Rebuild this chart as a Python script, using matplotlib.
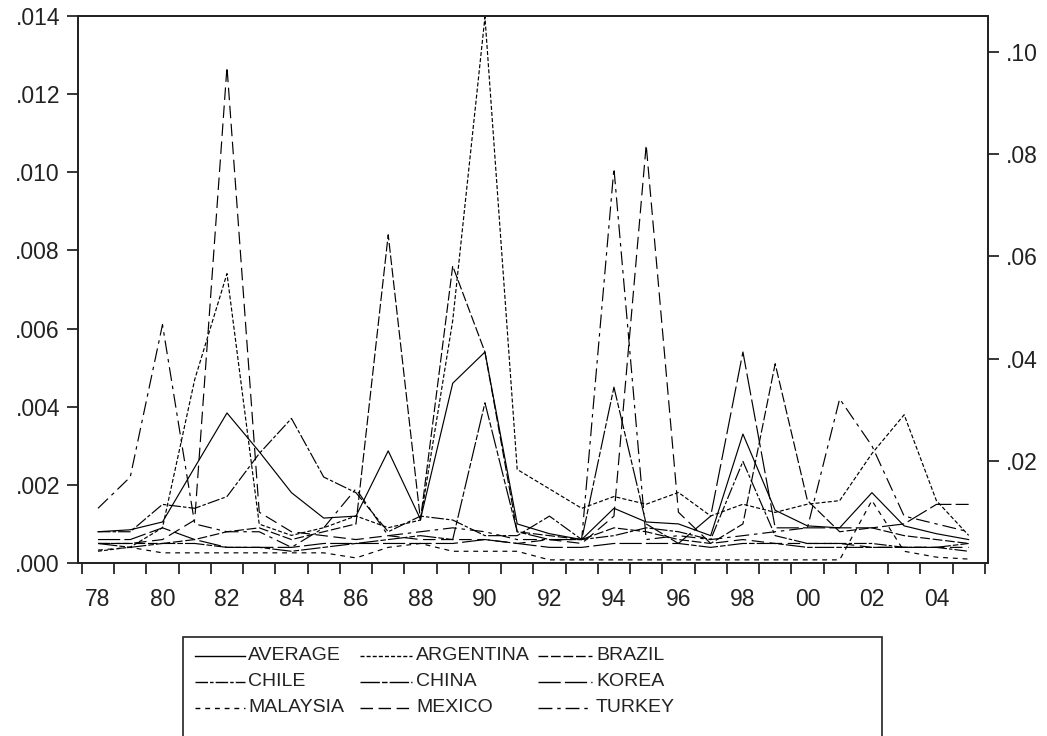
import matplotlib
matplotlib.use("Agg")
import matplotlib.pyplot as plt
from matplotlib.lines import Line2D
from matplotlib.patches import Rectangle
from matplotlib.ticker import FixedLocator, FuncFormatter

plt.rcParams['font.family'] = ['Liberation Sans', 'DejaVu Sans']
plt.rcParams['lines.scale_dashes'] = False

years = list(range(1978, 2006))

average = [0.00080, 0.00085, 0.00105, 0.00245, 0.00384, 0.00285, 0.00180, 0.00115, 0.00120, 0.00287,
           0.00112, 0.00460, 0.00540, 0.00100, 0.00075, 0.00060, 0.00140, 0.00105, 0.00100, 0.00070,
           0.00330, 0.00135, 0.00095, 0.00090, 0.00180, 0.00095, 0.00075, 0.00060]
# ARGENTINA is drawn against the right-hand scale
argentina = [0.0023, 0.0031, 0.0069, 0.0359, 0.0566, 0.0076, 0.0054, 0.0069, 0.0092, 0.0069,
             0.0084, 0.0474, 0.1068, 0.0183, 0.0145, 0.0107, 0.0130, 0.0115, 0.0138, 0.0092,
             0.0115, 0.0099, 0.0115, 0.0122, 0.0214, 0.0290, 0.0122, 0.0054]
brazil = [0.0005, 0.0005, 0.0005, 0.0006, 0.0008, 0.0009, 0.0006, 0.0008, 0.0010, 0.0084,
          0.0011, 0.0076, 0.0054, 0.0008, 0.0007, 0.0006, 0.0009, 0.0008, 0.0006, 0.0005,
          0.0010, 0.0051, 0.0016, 0.0008, 0.0009, 0.0007, 0.0006, 0.0005]
chile = [0.0008, 0.0008, 0.0015, 0.0014, 0.0017, 0.0028, 0.0037, 0.0022, 0.0018, 0.0008,
         0.0012, 0.0011, 0.0007, 0.0007, 0.0012, 0.0006, 0.0007, 0.0009, 0.0008, 0.0006,
         0.0026, 0.0007, 0.0005, 0.0005, 0.0005, 0.0004, 0.0004, 0.0003]
china = [0.0005, 0.0004, 0.0005, 0.0005, 0.0004, 0.0004, 0.0003, 0.0004, 0.0005, 0.0006,
         0.0007, 0.0006, 0.0041, 0.0008, 0.0006, 0.0006, 0.0045, 0.0010, 0.0005, 0.0004,
         0.0005, 0.0005, 0.0004, 0.0004, 0.0004, 0.0004, 0.0004, 0.0005]
korea = [0.0006, 0.0006, 0.0009, 0.0006, 0.0004, 0.0004, 0.0004, 0.0005, 0.0005, 0.0005,
         0.0005, 0.0005, 0.0006, 0.0005, 0.0004, 0.0004, 0.0005, 0.0005, 0.0005, 0.0012,
         0.0054, 0.0009, 0.0009, 0.0009, 0.0009, 0.0010, 0.0015, 0.0015]
malaysia = [0.00033, 0.0004, 0.00026, 0.00026, 0.00026, 0.00026, 0.00026, 0.00026, 0.00013, 0.0004,
            0.0005, 0.0003, 0.0003, 0.0003, 0.00008, 0.00008, 0.00008, 0.00008, 0.00008, 0.00008,
            0.00008, 0.00008, 0.00008, 0.00008, 0.0016, 0.0003, 0.00015, 0.0001]
mexico = [0.0005, 0.0005, 0.0006, 0.0011, 0.0127, 0.0013, 0.0008, 0.0007, 0.0006, 0.0007,
          0.0006, 0.0006, 0.0006, 0.0005, 0.0006, 0.0005, 0.0012, 0.0107, 0.0013, 0.0005,
          0.0006, 0.0005, 0.0005, 0.0005, 0.0004, 0.0004, 0.0004, 0.0004]
turkey = [0.0014, 0.0022, 0.0061, 0.0010, 0.0008, 0.0008, 0.0004, 0.0009, 0.0019, 0.0007,
          0.0008, 0.0009, 0.0008, 0.0006, 0.0006, 0.0006, 0.0101, 0.0006, 0.0007, 0.0006,
          0.0007, 0.0008, 0.0009, 0.0042, 0.0030, 0.0012, 0.0010, 0.0008]

names = ["AVERAGE", "ARGENTINA", "BRAZIL", "CHILE", "CHINA", "KOREA", "MALAYSIA", "MEXICO", "TURKEY"]
left_ticks = [0.000, 0.002, 0.004, 0.006, 0.008, 0.010, 0.012, 0.014]
right_ticks = [0.02, 0.04, 0.06, 0.08, 0.10]
xlabels_years = list(range(1978, 2005, 2))

styles = {
    "AVERAGE": None,
    "ARGENTINA": (0, (2.9, 1.5)),
    "BRAZIL": (0, (7, 2)),
    "CHILE": (0, (9, 1.5, 2.5, 1.5)),
    "CHINA": (0, (14, 1.5, 4, 1.5)),
    "KOREA": (0, (16, 3)),
    "MALAYSIA": (0, (3.5, 3.5)),
    "MEXICO": (0, (9, 4)),
    "TURKEY": (0, (10, 3.5, 2.5, 3.5)),
}
LW = 0.85

fig = plt.figure(figsize=(10.47, 7.36), dpi=100)
ax = fig.add_axes([78/1047, 1-563/736, (988-78)/1047, (563-16)/736])
ax2 = ax.twinx()

def ls(name):
    s = styles[name]
    return '-' if s is None else s

ax.plot(years, average, color='black', lw=LW, ls='-')
for nm, arr in [("BRAZIL", brazil), ("CHILE", chile), ("CHINA", china), ("KOREA", korea),
                ("MALAYSIA", malaysia), ("MEXICO", mexico), ("TURKEY", turkey)]:
    ax.plot(years, arr, color='black', lw=LW, ls=ls(nm))
ax2.plot(years, argentina, color='black', lw=LW, ls=ls("ARGENTINA"))

ax.set_xlim(1977.38, 2005.6)
ax.set_ylim(0, 0.014)
ax2.set_ylim(0, 0.107)

ax.yaxis.set_major_locator(FixedLocator(left_ticks))
ax.yaxis.set_major_formatter(FuncFormatter(lambda v, p: f"{v:.3f}".lstrip('0') if v >= 0 else ''))
ax2.yaxis.set_major_locator(FixedLocator(right_ticks))
ax2.yaxis.set_major_formatter(FuncFormatter(lambda v, p: f"{v:.2f}".lstrip('0')))

ax.xaxis.set_major_locator(FixedLocator(xlabels_years))
ax.xaxis.set_major_formatter(FuncFormatter(lambda v, p: f"{int(round(v)) % 100:02d}"))
ax.xaxis.set_minor_locator(FixedLocator([y + 0.5 for y in range(1977, 2006)]))

TS = 16.5
ax.tick_params(axis='x', which='major', length=0, pad=18, labelsize=TS, colors='#222222')
ax.tick_params(axis='x', which='minor', length=8, width=1.1, direction='out', color='black')
ax.tick_params(axis='y', which='major', length=8, width=1.1, direction='out', pad=5,
               labelsize=TS, labelcolor='#222222')
ax2.tick_params(axis='y', which='major', length=8, width=1.1, direction='out', pad=5,
                labelsize=TS, labelcolor='#222222')

for a in (ax, ax2):
    for sp in a.spines.values():
        sp.set_linewidth(1.3)
        sp.set_color('#222222')

# legend box
fig.add_artist(Rectangle((183/1047, 1-738/736), (882-183)/1047, (738-637)/736,
                         transform=fig.transFigure, fill=False, lw=1.2, ec='#222222',
                         clip_on=False))
cols_line = [(195, 245), (360, 412), (538, 592)]
cols_text = [248, 416, 596]
rows_y = [656, 682, 708]
order = [["AVERAGE", "ARGENTINA", "BRAZIL"],
         ["CHILE", "CHINA", "KOREA"],
         ["MALAYSIA", "MEXICO", "TURKEY"]]
for r, row in enumerate(order):
    for c, nm in enumerate(row):
        x0, x1 = cols_line[c]
        yy = 1 - rows_y[r]/736
        fig.add_artist(Line2D([x0/1047, x1/1047], [yy, yy], transform=fig.transFigure,
                              color='black', lw=1.0, ls=ls(nm)))
        fig.text(cols_text[c]/1047, yy, nm, fontsize=14, va='center', ha='left',
                 color='#222222')

fig.savefig("out.png", dpi=100)
